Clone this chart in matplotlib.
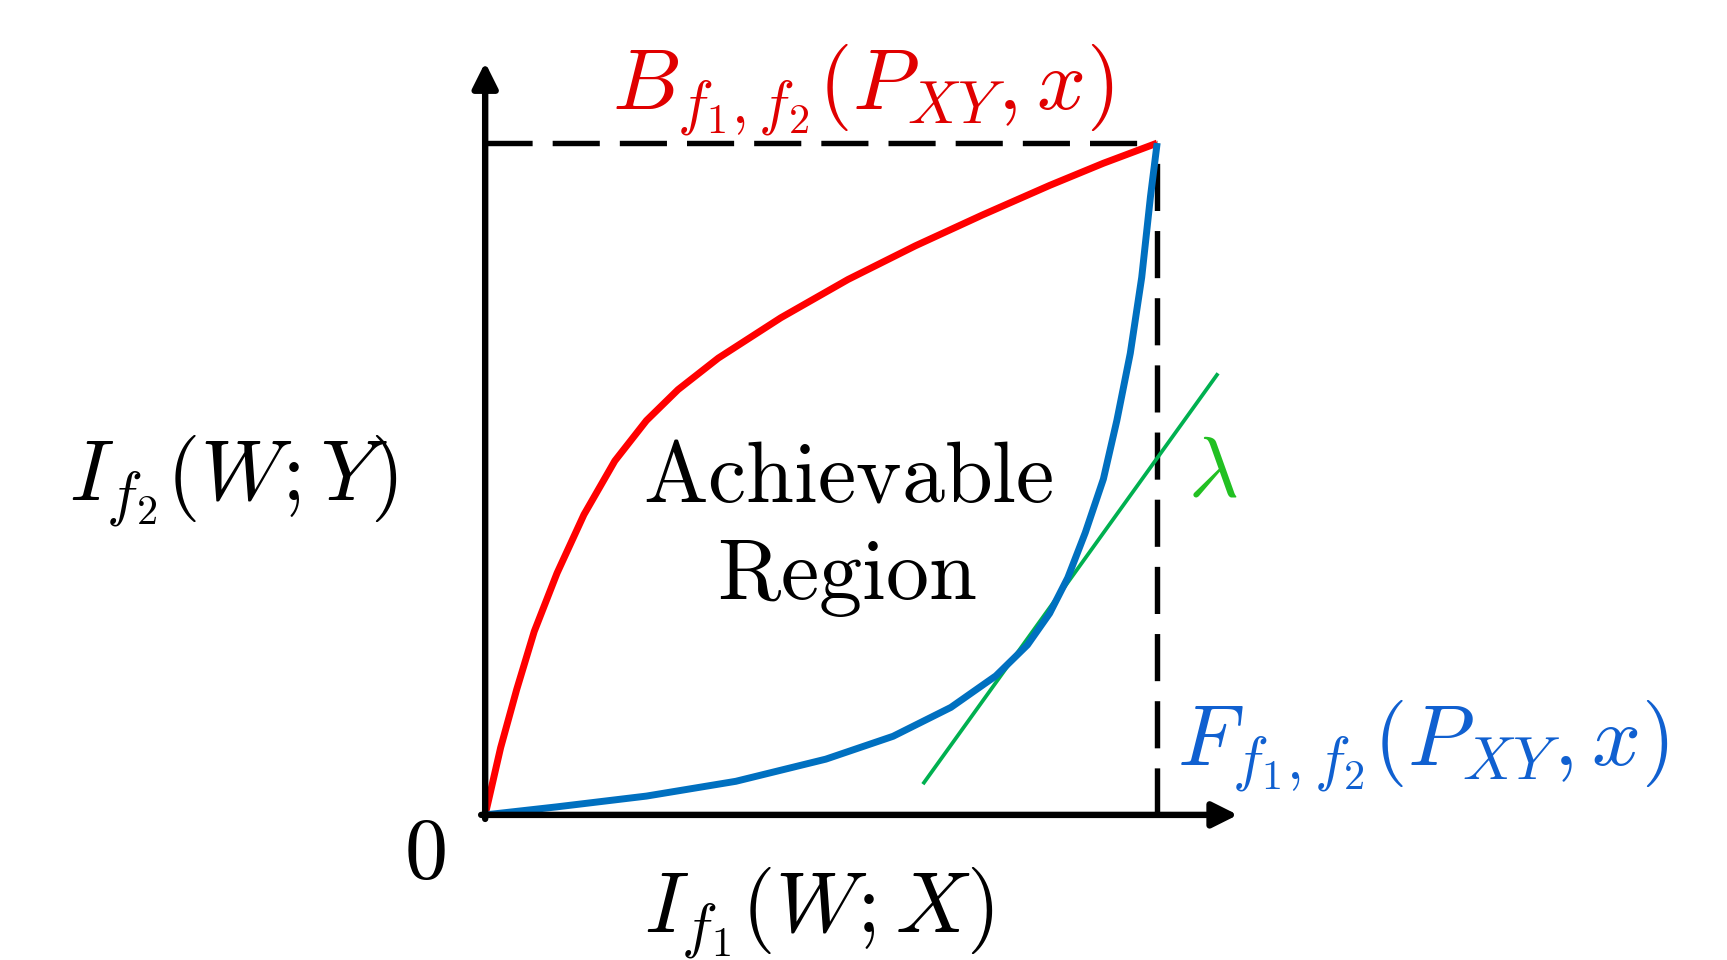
import numpy as np
import matplotlib
matplotlib.use("Agg")
import matplotlib.pyplot as plt

plt.rcParams['mathtext.fontset'] = 'cm'

# curves (x = I_f1, y = I_f2, corner at (1, 1))
red_x = [0.0, 0.023, 0.047, 0.073, 0.107, 0.147, 0.193, 0.240, 0.287, 0.347,
         0.440, 0.540, 0.640, 0.740, 0.840, 0.920, 1.0]
red_y = [0.0, 0.100, 0.187, 0.273, 0.360, 0.447, 0.527, 0.587, 0.633, 0.680,
         0.740, 0.797, 0.847, 0.893, 0.937, 0.970, 1.0]

blue_x = [0.0, 0.107, 0.240, 0.373, 0.507, 0.607, 0.693, 0.760, 0.807, 0.840,
          0.867, 0.893, 0.920, 0.940, 0.960, 0.977, 0.990, 1.0]
blue_y = [0.0, 0.012, 0.028, 0.050, 0.083, 0.117, 0.160, 0.207, 0.253, 0.300,
          0.353, 0.420, 0.500, 0.587, 0.687, 0.800, 0.920, 1.0]

# tangent line
green_x = [0.653, 1.089]
green_y = [0.048, 0.655]

fig = plt.figure(figsize=(17.27, 9.6), dpi=100)
ax = fig.add_axes([0, 0, 1, 1])
ax.set_xlim(-0.722, 1.848)
ax.set_ylim(-0.216, 1.213)
ax.axis('off')

# dashed box
ax.plot([0, 1], [1, 1], color='black', lw=3.9, ls=(0, (8.7, 3.7)))
ax.plot([1, 1], [0, 1], color='black', lw=3.9, ls=(0, (8.7, 3.7)))

# axes with arrows
arrow = dict(arrowstyle='-|>', color='black', lw=4.6, mutation_scale=38, shrinkA=0, shrinkB=0)
ax.annotate('', xy=(0, 1.12), xytext=(0, -0.006), arrowprops=arrow)
ax.annotate('', xy=(1.12, 0), xytext=(-0.006, 0), arrowprops=arrow)

ax.plot(green_x, green_y, color='#00b050', lw=2.7)
ax.plot(red_x, red_y, color='#ff0000', lw=5, solid_joinstyle='round', solid_capstyle='butt')
ax.plot(blue_x, blue_y, color='#0070c0', lw=5, solid_joinstyle='round', solid_capstyle='butt')

fs = 62
ax.text(0.562, 1.050, r'$B_{f_1,f_2}(P_{XY},x)$', color='#e00000', fontsize=fs, ha='center', va='baseline')
ax.text(1.030, 0.073, r'$F_{f_1,f_2}(P_{XY},x)$', color='#1060d0', fontsize=fs, ha='left', va='baseline')
ax.text(-0.375, 0.467, r'$I_{f_2}(W;Y)$', color='black', fontsize=fs, ha='center', va='baseline')
ax.text(0.497, -0.176, r'$I_{f_1}(W;X)$', color='black', fontsize=fs, ha='center', va='baseline')
ax.text(-0.090, -0.094, r'$0$', color='black', fontsize=fs, ha='center', va='baseline')
ax.text(1.082, 0.476, r'$\lambda$', color='#22c022', fontsize=fs, ha='center', va='baseline')
ax.text(0.540, 0.467, r'$\mathrm{Achievable}$', color='black', fontsize=fs, ha='center', va='baseline')
ax.text(0.538, 0.321, r'$\mathrm{Region}$', color='black', fontsize=fs, ha='center', va='baseline')

plt.savefig('out.png', dpi=100)
